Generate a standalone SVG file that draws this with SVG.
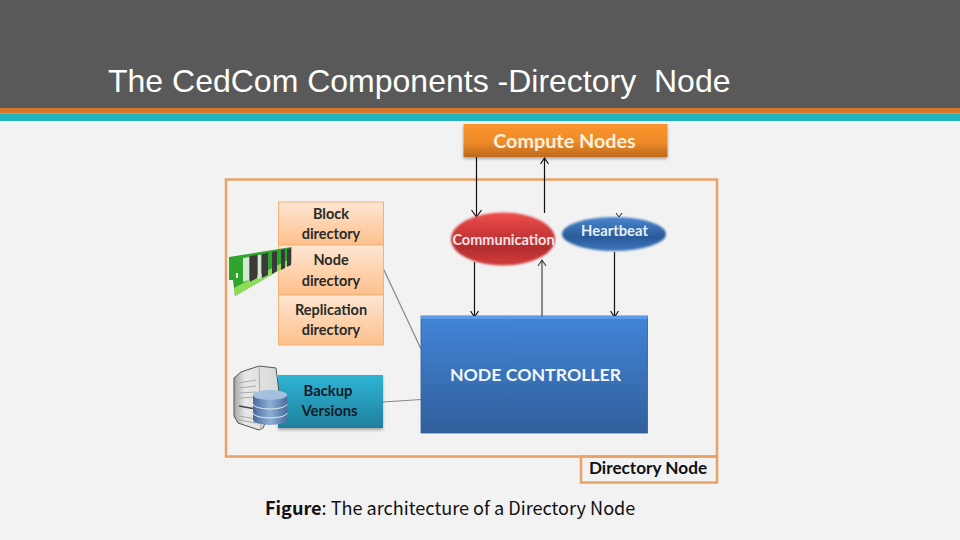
<svg xmlns="http://www.w3.org/2000/svg" width="960" height="540" viewBox="0 0 960 540">
<style>
.lbl{font-family:"Lato","Open Sans","Liberation Sans",sans-serif;font-weight:700;text-anchor:middle}
.dk{fill:#2a2a2a;font-size:14.500px}
.ln{fill:none;stroke:#111;stroke-width:1.200}
.gr{fill:none;stroke:#888;stroke-width:1.200}
.hd{fill:none;stroke:#111;stroke-width:1}
.st{stroke:#f0b27a;stroke-width:1}
.frame{fill:none;stroke:#e9a263;stroke-width:2.500}
.chip{fill:#3a3a3a}
.pin{fill:#d5e8d0}
</style>
<defs>
<linearGradient id="og" x1="0" y1="0" x2="0" y2="1"><stop offset="0" stop-color="#fb952d"/><stop offset=".55" stop-color="#ee8a2a"/><stop offset="1" stop-color="#bd6a1c"/></linearGradient>
<linearGradient id="pe" x1="0" y1="0" x2="0" y2="1"><stop offset="0" stop-color="#fde6d2"/><stop offset="1" stop-color="#fdc08a"/></linearGradient>
<linearGradient id="te" x1="0" y1="0" x2="0" y2="1"><stop offset="0" stop-color="#2fb5d6"/><stop offset="1" stop-color="#1f7f9c"/></linearGradient>
<linearGradient id="bl" x1="0" y1="0" x2="0" y2="1"><stop offset="0" stop-color="#4285d8"/><stop offset="1" stop-color="#315f9b"/></linearGradient>
<linearGradient id="re" x1="0" y1="0" x2="0" y2="1"><stop offset="0" stop-color="#ef4c4c"/><stop offset=".65" stop-color="#b32d2d"/><stop offset="1" stop-color="#d23c3c"/></linearGradient>
<linearGradient id="hb" x1="0" y1="0" x2="0" y2="1"><stop offset="0" stop-color="#4a86cf"/><stop offset=".6" stop-color="#2a5a98"/><stop offset="1" stop-color="#3f78bf"/></linearGradient>
<linearGradient id="db" x1="0" y1="0" x2="1" y2="0"><stop offset="0" stop-color="#456a9b"/><stop offset=".5" stop-color="#8fb0d6"/><stop offset="1" stop-color="#4a6f9f"/></linearGradient>
<linearGradient id="sv" x1="0" y1="0" x2="1" y2="0"><stop offset="0" stop-color="#a5a5a5"/><stop offset=".25" stop-color="#e8e8e8"/><stop offset="1" stop-color="#d8d8d8"/></linearGradient>
<filter id="sh" x="-10%" y="-20%" width="120%" height="150%"><feDropShadow dx="0" dy="2" stdDeviation="1.500" flood-color="#000" flood-opacity=".3"/></filter>
<filter id="soft" x="-10%" y="-10%" width="120%" height="120%"><feGaussianBlur stdDeviation=".8"/></filter>
</defs>
<rect width="960" height="540" fill="#f2f2f2"/>
<g id="header">
<rect width="960" height="108" fill="#595959"/>
<rect y="108" width="960" height="5.500" fill="#d5762f"/>
<rect y="113.500" width="960" height="7.500" fill="#22b5bd"/>
<text x="108" y="91.500" font-family="Liberation Sans,sans-serif" font-size="32" fill="#fff" xml:space="preserve">The CedCom Components -Directory  Node</text>
</g>
<g id="directory-frame">
<rect class="frame" x="226" y="179.500" width="491" height="277"/>
<rect class="frame" x="581" y="456.500" width="136" height="26"/>
<text class="lbl" x="648" y="474" fill="#111" font-size="17.200">Directory Node</text>
</g>
<g id="connectors">
<path class="ln" d="M476.500 157V217M471.500 210L476.500 217L481.500 210"/>
<path class="ln" d="M544.500 213V158M540.500 164L544.500 158L548.500 164"/>
<path class="ln" d="M474.500 262V317M470.500 311L474.500 317L478.500 311"/>
<path d="M542 317V260M538 266L542 260L546 266" fill="none" stroke="#444" stroke-width="1.200"/>
<path class="ln" d="M614.500 252V317M610.500 311L614.500 317L618.500 311"/>
<path class="hd" d="M616 213L619 217L622 213"/>
<path class="gr" d="M383.500 269L421 349"/>
<path class="gr" d="M383 402L421 399.500"/>
</g>
<g id="compute-nodes">
<rect x="463.500" y="124" width="204" height="33" fill="url(#og)" filter="url(#sh)"/>
<text class="lbl" x="564.500" y="148" fill="#fdf0dc" font-size="19.800">Compute Nodes</text>
</g>
<g id="block-directory">
<rect class="st" x="278.500" y="202" width="105" height="43" fill="url(#pe)"/>
<text class="lbl dk" x="331" y="219">Block</text><text class="lbl dk" x="331" y="239">directory</text>
</g>
<g id="node-directory">
<rect class="st" x="278.500" y="245" width="105" height="50" fill="url(#pe)"/>
<text class="lbl dk" x="331" y="265">Node</text><text class="lbl dk" x="331" y="285.500">directory</text>
</g>
<g id="replication-directory">
<rect class="st" x="278.500" y="295" width="105" height="50" fill="url(#pe)"/>
<text class="lbl dk" x="331" y="315">Replication</text><text class="lbl dk" x="331" y="335">directory</text>
</g>
<g id="memory-module">
<polygon points="229,257 291.500,247 291.500,263 235,296 233,280 229,280" fill="#2fa52f"/>
<polygon points="235,296 291.500,263 291.500,258 234,288" fill="#8fdc5a"/>
<polygon class="chip" points="250,256 257,255 257,278 250,282"/>
<polygon class="chip" points="262,254 268,253 268,275 262,278"/>
<polygon class="chip" points="272,252 277,251 277,271 272,274"/>
<polygon class="chip" points="281,250 285,249 285,268 281,270"/>
<polygon class="chip" points="287,249 291,248 291,265 287,267"/>
<polygon class="pin" points="243,258 249,257 249,280 243,282"/>
<polygon class="pin" points="258,255 261,255 261,278 258,279"/>
<rect x="236" y="273" width="2" height="5" fill="#e8f5e0"/>
</g>
<g id="backup-versions">
<rect x="278" y="375" width="105" height="53" fill="url(#te)" filter="url(#sh)"/>
<text class="lbl" x="328" y="396" fill="#111c28" font-size="14.800">Backup</text><text class="lbl" x="329.500" y="416" fill="#111c28" font-size="14.800">Versions</text>
</g>
<g id="server">
<polygon points="234,378 241,372 259,366 276,368 279,392 263,428 259,430 238,423 234,416" fill="url(#sv)" stroke="#555" stroke-width="1"/>
<path d="M259 366L261 430" stroke="#aaa" fill="none"/>
<path d="M239 383L256 380M239 388L256 386M239 393L256 392M239 398L256 397M239 416L256 419M239 420L256 423" stroke="#aaa" fill="none"/>
<path d="M239 406L256 409" stroke="#444" stroke-width="1.500" fill="none"/>
</g>
<g id="database">
<path d="M253 395V420A17 5 0 0 0 287 420V395Z" fill="url(#db)"/>
<ellipse cx="270" cy="395" rx="17" ry="5" fill="#a5c0de"/>
<path d="M253 404A17 5 0 0 0 287 404M253 413A17 5 0 0 0 287 413" fill="none" stroke="#dfe9f4"/>
</g>
<g id="node-controller">
<rect x="421" y="316" width="226.500" height="117" fill="url(#bl)" stroke="#2f5f97" stroke-width=".8"/>
<rect x="421" y="316" width="226.500" height="3" fill="#5a9ae6"/>
<text class="lbl" x="535.500" y="380.500" fill="#f2f6fb" font-size="17.700">NODE CONTROLLER</text>
</g>
<g id="communication">
<ellipse cx="503" cy="239" rx="52" ry="26.500" fill="url(#re)" filter="url(#soft)"/>
<text class="lbl" x="503.500" y="245" fill="#f6e3e3" font-size="14.500">Communication</text>
</g>
<g id="heartbeat">
<ellipse cx="614" cy="234" rx="52" ry="17" fill="url(#hb)" filter="url(#soft)"/>
<text class="lbl" x="614.500" y="236" fill="#e6eef8" font-size="14.800">Heartbeat</text>
</g>
<g id="caption">
<text x="265" y="514.500" font-family="Noto Sans CJK JP,Noto Sans,sans-serif" font-size="18.100" fill="#111"><tspan font-weight="700">Figure</tspan>: The architecture of a Directory Node</text>
</g>
</svg>
